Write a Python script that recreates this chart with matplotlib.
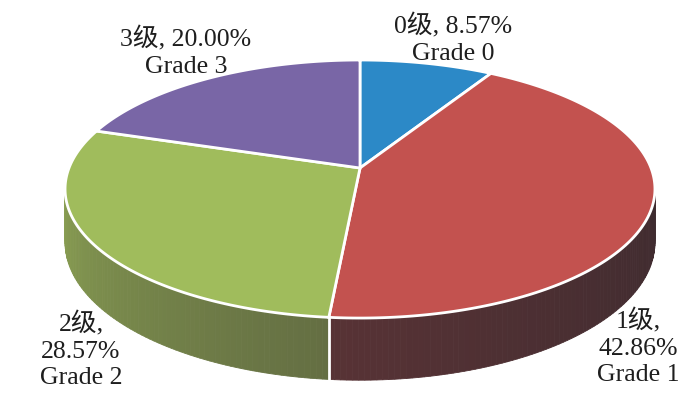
import numpy as np
import matplotlib.pyplot as plt
from matplotlib.colors import to_rgb

# 데이터
grades = ['0级', '1级', '2级', '3级']
grade_en = ['Grade 0', 'Grade 1', 'Grade 2', 'Grade 3']
shares = [8.57, 42.86, 28.57, 20.00]
top_colors = ['#2C89C7', '#C3524F', '#A0BC5C', '#7966A6']
side_gain = [1.0, 0.6, 1.0, 1.0]

# 라벨 위치 (픽셀) 과 줄바꿈 여부
label_xy = [(453, 39), (638, 347), (81, 350), (186, 52)]
label_wrap = [False, True, True, False]

# 원근 투영 파라미터
cx, cy, rx, ry, k, h = 360, 168, 291, 125.6, 0.163, 52
dark = np.array(to_rgb('#2C262B'))


def proj(t, r=1.0, drop=0.0):
    t = np.radians(t)
    x, y = r * np.cos(t), r * np.sin(t)
    w = 1 + k * y
    return cx + rx * x / w, cy - ry * y / w + drop * h / w


fig = plt.figure(figsize=(7, 3.95), dpi=100)
ax = fig.add_axes([0, 0, 1, 1])
ax.set_xlim(0, 700)
ax.set_ylim(395, 0)
ax.axis('off')

frac = np.array(shares) / sum(shares)
edges = 90 - 360 * np.concatenate([[0], np.cumsum(frac)])

# 옆면 (앞쪽 절반만 보임)
for i, col in enumerate(top_colors):
    a, b = edges[i + 1], edges[i]
    lo, hi = max(a, -180), min(b, 0)
    if lo >= hi:
        continue
    base = np.array(to_rgb(col))
    ts = np.linspace(lo, hi, int(hi - lo) + 2)
    for t0, t1 in zip(ts[:-1], ts[1:]):
        s = -(t0 + t1) / 2 / 180
        m = (0.2 + 0.65 * s ** 1.3) * side_gain[i]
        c = m * base + (1 - m) * dark
        x0, y0 = proj(t0)
        x1, y1 = proj(t1)
        x2, y2 = proj(t1, drop=1)
        x3, y3 = proj(t0, drop=1)
        ax.fill([x0, x1, x2, x3], [y0, y1, y2, y3], color=c, lw=0.6, zorder=1)

# 옆면 경계선
for e in edges:
    t = (e + 360) % 360 - 360
    if -180 < t < 0:
        xa, ya = proj(t)
        xb, yb = proj(t, drop=1)
        ax.plot([xa, xb], [ya, yb], color='white', lw=2, zorder=2)

# 윗면
for i, col in enumerate(top_colors):
    a, b = edges[i + 1], edges[i]
    ts = np.linspace(b, a, 200)
    xs, ys = proj(ts)
    xs = np.concatenate([[cx], xs])
    ys = np.concatenate([[cy], ys])
    ax.fill(xs, ys, facecolor=col, edgecolor='white', lw=2, zorder=3,
            joinstyle='miter')

# 라벨
for i in range(len(grades)):
    sep = ',\n' if label_wrap[i] else ', '
    txt = f'{grades[i]}{sep}{shares[i]:.2f}%\n{grade_en[i]}'
    ax.text(label_xy[i][0], label_xy[i][1], txt, ha='center', va='center',
            fontsize=18.5, linespacing=1.25, color='#1E1E1E',
            family=['Liberation Serif', 'Noto Sans CJK SC'])

plt.savefig('out.png', dpi=100)
